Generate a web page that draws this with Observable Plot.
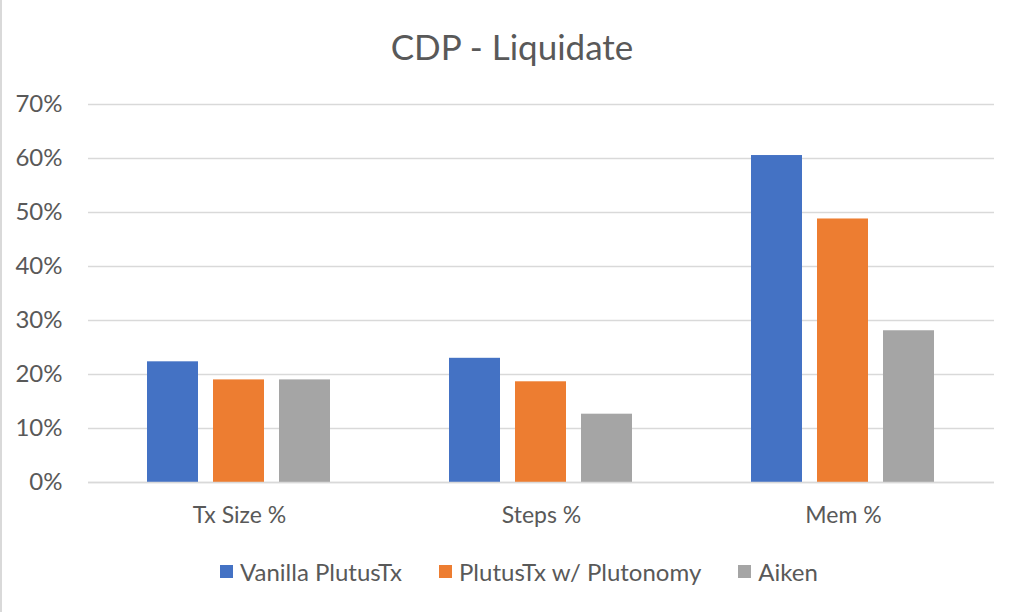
<!DOCTYPE html>
<html>
<head>
<meta charset="utf-8">
<script src="https://cdn.jsdelivr.net/npm/d3@7"></script>
<script src="https://cdn.jsdelivr.net/npm/@observablehq/plot@0.6"></script>
<style>
  html, body { margin: 0; padding: 0; background: #fff; }
  #wrap { position: relative; width: 1024px; height: 612px; overflow: hidden; background: #fff; font-family: Lato, "Open Sans", sans-serif; color: #595959; }
  #border { position: absolute; left: 0; top: 0; width: 2px; height: 612px; background: #d9d9d9; }
  #title { position: absolute; left: 0; top: 0; width: 1024px; height: 80px; line-height: 92px; text-align: center; font-size: 35px; }
  #chart { position: absolute; left: 0; top: 80px; }
  #legend { position: absolute; left: 220px; top: 557px; height: 28px; display: flex; align-items: center; font-size: 24px; white-space: nowrap; }
  .item { display: flex; align-items: center; margin-right: 37px; }
  .sw { width: 13px; height: 13px; margin-right: 7px; }
</style>
</head>
<body>
<div id="wrap">
  <div id="border"></div>
  <div id="title">CDP - Liquidate</div>
  <div id="chart"></div>
  <div id="legend"></div>
</div>
<script>
const categories = ["Tx Size %", "Steps %", "Mem %"];
const series = ["Vanilla PlutusTx", "PlutusTx w/ Plutonomy", "Aiken"];
const vanilla = [0.2235, 0.230, 0.6055];
const plutonomy = [0.190, 0.1865, 0.488];
const aiken = [0.190, 0.1265, 0.281];
const colors = ["#4472C4", "#ED7D31", "#A5A5A5"];
const yTicks = [0, 0.1, 0.2, 0.3, 0.4, 0.5, 0.6, 0.7];

const valuesBySeries = [vanilla, plutonomy, aiken];
const data = [];
categories.forEach((c, i) => {
  series.forEach((s, j) => {
    data.push({category: c, series: s, value: valuesBySeries[j][i]});
  });
});

const chart = Plot.plot({
  width: 1024,
  height: 470,
  marginLeft: 88,
  marginRight: 30,
  marginTop: 24,
  marginBottom: 68,
  style: {fontFamily: "Lato, 'Open Sans', sans-serif", color: "#595959", background: "transparent"},
  fx: {domain: categories, paddingInner: 0, paddingOuter: 0, label: null},
  x: {domain: series, paddingInner: 0.224, paddingOuter: 0.866, axis: null},
  y: {domain: [0, 0.7], label: null},
  color: {domain: series, range: colors},
  marks: [
    Plot.gridY(yTicks, {stroke: "#d9d9d9", strokeOpacity: 1, strokeWidth: 1.4}),
    Plot.axisY(yTicks, {tickFormat: d3.format(".0%"), tickSize: 0, tickPadding: 26, fontSize: 24, fill: "#595959", label: null}),
    Plot.axisFx({anchor: "bottom", tickSize: 0, tickPadding: 24, fontSize: 23, fill: "#595959", label: null}),
    Plot.barY(data, {fx: "category", x: "series", y: "value", fill: "series"}),
    Plot.ruleY([0], {stroke: "#d9d9d9", strokeWidth: 1.4})
  ]
});
document.getElementById("chart").appendChild(chart);

const legend = document.getElementById("legend");
series.forEach((s, i) => {
  const item = document.createElement("div");
  item.className = "item";
  const sw = document.createElement("div");
  sw.className = "sw";
  sw.style.background = colors[i];
  const t = document.createElement("span");
  t.textContent = s;
  item.appendChild(sw);
  item.appendChild(t);
  legend.appendChild(item);
});
</script>
</body>
</html>
